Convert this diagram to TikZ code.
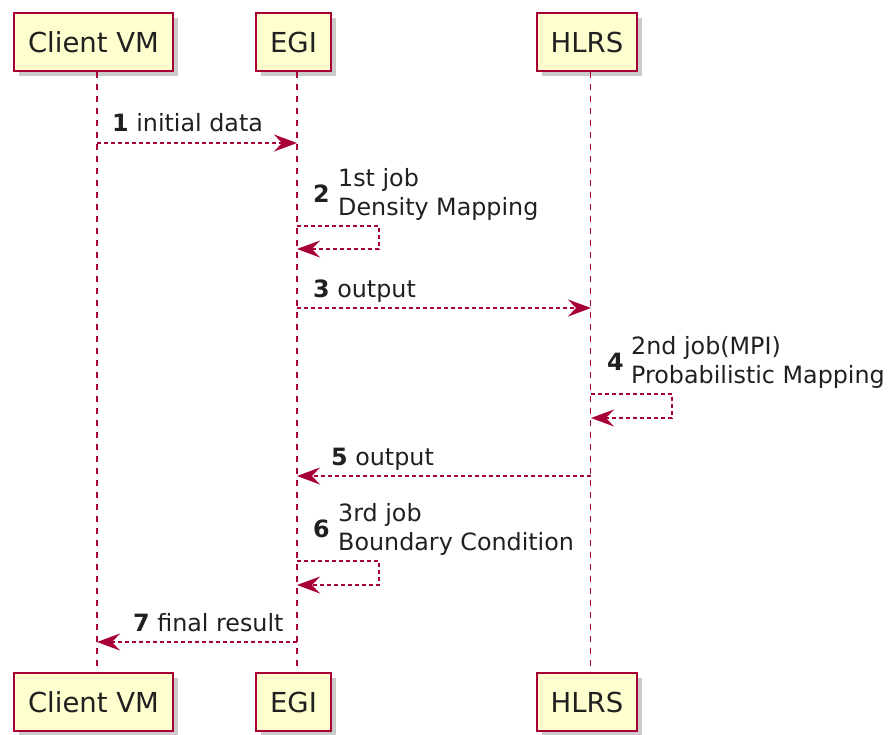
\documentclass[tikz,border=0pt]{standalone}
\usepackage{fontspec}
\setmainfont{DejaVu Sans}
\usetikzlibrary{arrows.meta,shadows}
\definecolor{umlred}{HTML}{A80036}
\definecolor{umlfill}{HTML}{FEFECE}
\definecolor{umltext}{HTML}{202020}
\tikzset{
  actor/.style={draw=umlred, fill=umlfill, line width=1.8pt, minimum height=58pt, inner xsep=14pt,
    text=umltext, font=\fontsize{27.5}{33}\selectfont,
    drop shadow={shadow xshift=5pt, shadow yshift=-5pt, fill=black!45, opacity=0.45}},
  life/.style={draw=umlred, line width=1.4pt, dash pattern=on 6pt off 6pt},
  msg/.style={-{Stealth[length=23pt,width=17pt,inset=8pt]}, draw=umlred, line width=1.4pt,
    dash pattern=on 4pt off 3pt},
  lbl/.style={inner sep=0pt, text=umltext, font=\fontsize{23.8}{29}\selectfont, align=left},
  num/.style={inner sep=0pt, text=umltext, font=\fontsize{23.8}{29}\selectfont\bfseries},
}

\begin{document}
\begin{tikzpicture}[x=1pt, y=-1pt]
  \useasboundingbox (0,0) rectangle (888,734);
  % participants
  \node[actor] (cT) at (93.5,42) {Client VM};
  \node[actor] (eT) at (293.5,42) {EGI};
  \node[actor] (hT) at (587,42) {HLRS};
  \node[actor] (cB) at (93.5,702) {Client VM};
  \node[actor] (eB) at (293.5,702) {EGI};
  \node[actor] (hB) at (587,702) {HLRS};
  % lifelines
  \draw[life] ([xshift=3.5pt]cT.south) -- ([xshift=3.5pt]cB.north);
  \draw[life] ([xshift=3.5pt]eT.south) -- ([xshift=3.5pt]eB.north);
  \draw[life] ([xshift=3.5pt]hT.south) -- ([xshift=3.5pt]hB.north);

  % 1 initial data
  \coordinate (m1a) at (97,143);
  \coordinate (m1b) at (297,143);
  \draw[msg] (m1a) -- (m1b);
  \node[lbl, anchor=base west] (t1) at (112,131) {\textbf{1} initial data};

  % 2 self call on EGI
  \coordinate (m2a) at (297,226);
  \coordinate (m2b) at (297,249);
  \draw[msg] (m2a) -- ++(82,0) |- (m2b);
  \node[num, anchor=base west] (n2) at (313,202.5) {2};
  \node[lbl, anchor=south west] (t2) at (338,221) {1st job\\Density Mapping};

  % 3 output
  \coordinate (m3a) at (297,308);
  \coordinate (m3b) at (591,308);
  \draw[msg] (m3a) -- (m3b);
  \node[lbl, anchor=base west] (t3) at (313,297) {\textbf{3} output};

  % 4 self call on HLRS
  \coordinate (m4a) at (591,394);
  \coordinate (m4b) at (591,418);
  \draw[msg] (m4a) -- ++(81,0) |- (m4b);
  \node[num, anchor=base west] (n4) at (607,370.5) {4};
  \node[lbl, anchor=south west] (t4) at (631,389) {2nd job(MPI)\\Probabilistic Mapping};

  % 5 output
  \coordinate (m5a) at (591,476);
  \coordinate (m5b) at (297,476);
  \draw[msg] (m5a) -- (m5b);
  \node[lbl, anchor=base west] (t5) at (331,465) {\textbf{5} output};

  % 6 self call on EGI
  \coordinate (m6a) at (297,561);
  \coordinate (m6b) at (297,585);
  \draw[msg] (m6a) -- ++(82,0) |- (m6b);
  \node[num, anchor=base west] (n6) at (313,537) {6};
  \node[lbl, anchor=south west] (t6) at (338,556) {3rd job\\Boundary Condition};

  % 7 final result
  \coordinate (m7a) at (297,642);
  \coordinate (m7b) at (97,642);
  \draw[msg] (m7a) -- (m7b);
  \node[lbl, anchor=base west] (t7) at (133,631) {\textbf{7} final result};
\end{tikzpicture}
\end{document}
